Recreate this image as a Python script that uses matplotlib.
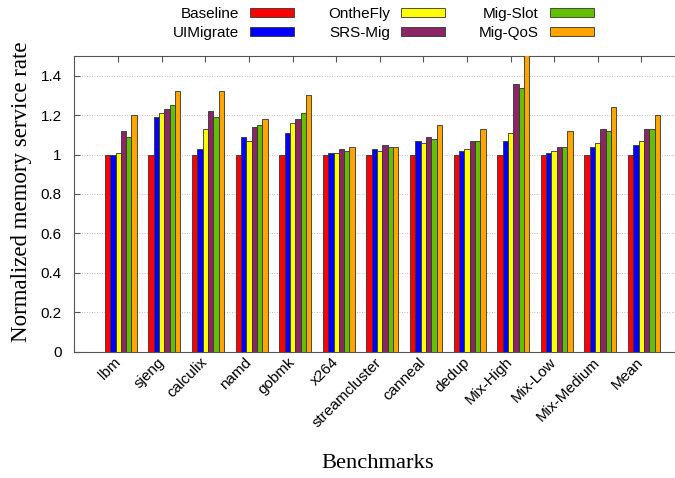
import numpy as np
import matplotlib
matplotlib.use("Agg")
import matplotlib.pyplot as plt

benchmarks = ["lbm", "sjeng", "calculix", "namd", "gobmk", "x264", "streamcluster",
              "canneal", "dedup", "Mix-High", "Mix-Low", "Mix-Medium", "Mean"]

baseline = [1.00, 1.00, 1.00, 1.00, 1.00, 1.00, 1.00, 1.00, 1.00, 1.00, 1.00, 1.00, 1.00]
uimigrate = [1.00, 1.19, 1.03, 1.09, 1.11, 1.01, 1.03, 1.07, 1.02, 1.07, 1.01, 1.04, 1.05]
onthefly = [1.01, 1.21, 1.13, 1.07, 1.16, 1.01, 1.02, 1.06, 1.03, 1.11, 1.02, 1.06, 1.07]
srs_mig = [1.12, 1.23, 1.22, 1.14, 1.18, 1.03, 1.05, 1.09, 1.07, 1.36, 1.04, 1.13, 1.13]
mig_slot = [1.09, 1.25, 1.19, 1.15, 1.21, 1.02, 1.04, 1.08, 1.07, 1.34, 1.04, 1.12, 1.13]
mig_qos = [1.20, 1.32, 1.32, 1.18, 1.30, 1.04, 1.04, 1.15, 1.13, 1.52, 1.12, 1.24, 1.20]

series = [("Baseline", baseline, "#ff0000"),
          ("UIMigrate", uimigrate, "#0000ff"),
          ("OntheFly", onthefly, "#ffff00"),
          ("SRS-Mig", srs_mig, "#8b2566"),
          ("Mig-Slot", mig_slot, "#62c000"),
          ("Mig-QoS", mig_qos, "#ffa500")]

fig = plt.figure(figsize=(6.75, 4.78), dpi=100)
ax = fig.add_axes([74 / 675, 1 - 351.7 / 478, 1 - 74 / 675, (351.7 - 56) / 478])

x = np.arange(len(benchmarks))
w = 0.122
start = -13.4 / 43.6
for k, (name, vals, col) in enumerate(series):
    ax.bar(x + start + w * (k + 0.5), vals, width=w, color=col,
           edgecolor="#333333", linewidth=0.6, label=name, zorder=3)

ax.set_xlim(-1.016, 12.77)
ax.set_ylim(0, 1.5)
ax.set_yticks([0, 0.2, 0.4, 0.6, 0.8, 1.0, 1.2, 1.4])
ax.set_yticklabels(["0", "0.2", "0.4", "0.6", "0.8", "1", "1.2", "1.4"],
                   fontfamily="Liberation Sans", fontsize=11)
ax.set_xticks(x)
ax.set_xticklabels(benchmarks, rotation=45, ha="right", va="center",
                   rotation_mode="anchor", fontfamily="Liberation Sans", fontsize=11)
ax.tick_params(axis="x", direction="in", top=True, length=4, width=0.8,
               color="#555555", pad=6)
ax.tick_params(axis="y", direction="in", length=4, width=0.8,
               color="#555555", pad=9)
ax.yaxis.grid(True, linestyle=(0, (1, 2)), color="#aaaaaa", linewidth=0.6, zorder=0)
ax.set_axisbelow(True)
ax.spines["right"].set_visible(False)
for s in ["left", "top", "bottom"]:
    ax.spines[s].set_color("#555555")
    ax.spines[s].set_linewidth(0.8)

fig.text(22 / 675, 1 - 192 / 478, "Normalized memory service rate", rotation=90,
         ha="center", va="center", fontfamily="Liberation Serif", fontsize=16.5)
fig.text(378 / 675, 1 - 463 / 478, "Benchmarks", ha="center", va="center",
         fontfamily="Liberation Serif", fontsize=16.2)

fig.legend(loc="center", bbox_to_anchor=(383.5 / 675, 1 - 23.5 / 478), ncol=3,
           frameon=False, markerfirst=False, handlelength=2.9, handleheight=0.52,
           handletextpad=0.72, columnspacing=2.2, labelspacing=0.28,
           prop={"family": "Liberation Sans", "size": 11}, borderpad=0.2)

fig.savefig("out.png", dpi=100)
